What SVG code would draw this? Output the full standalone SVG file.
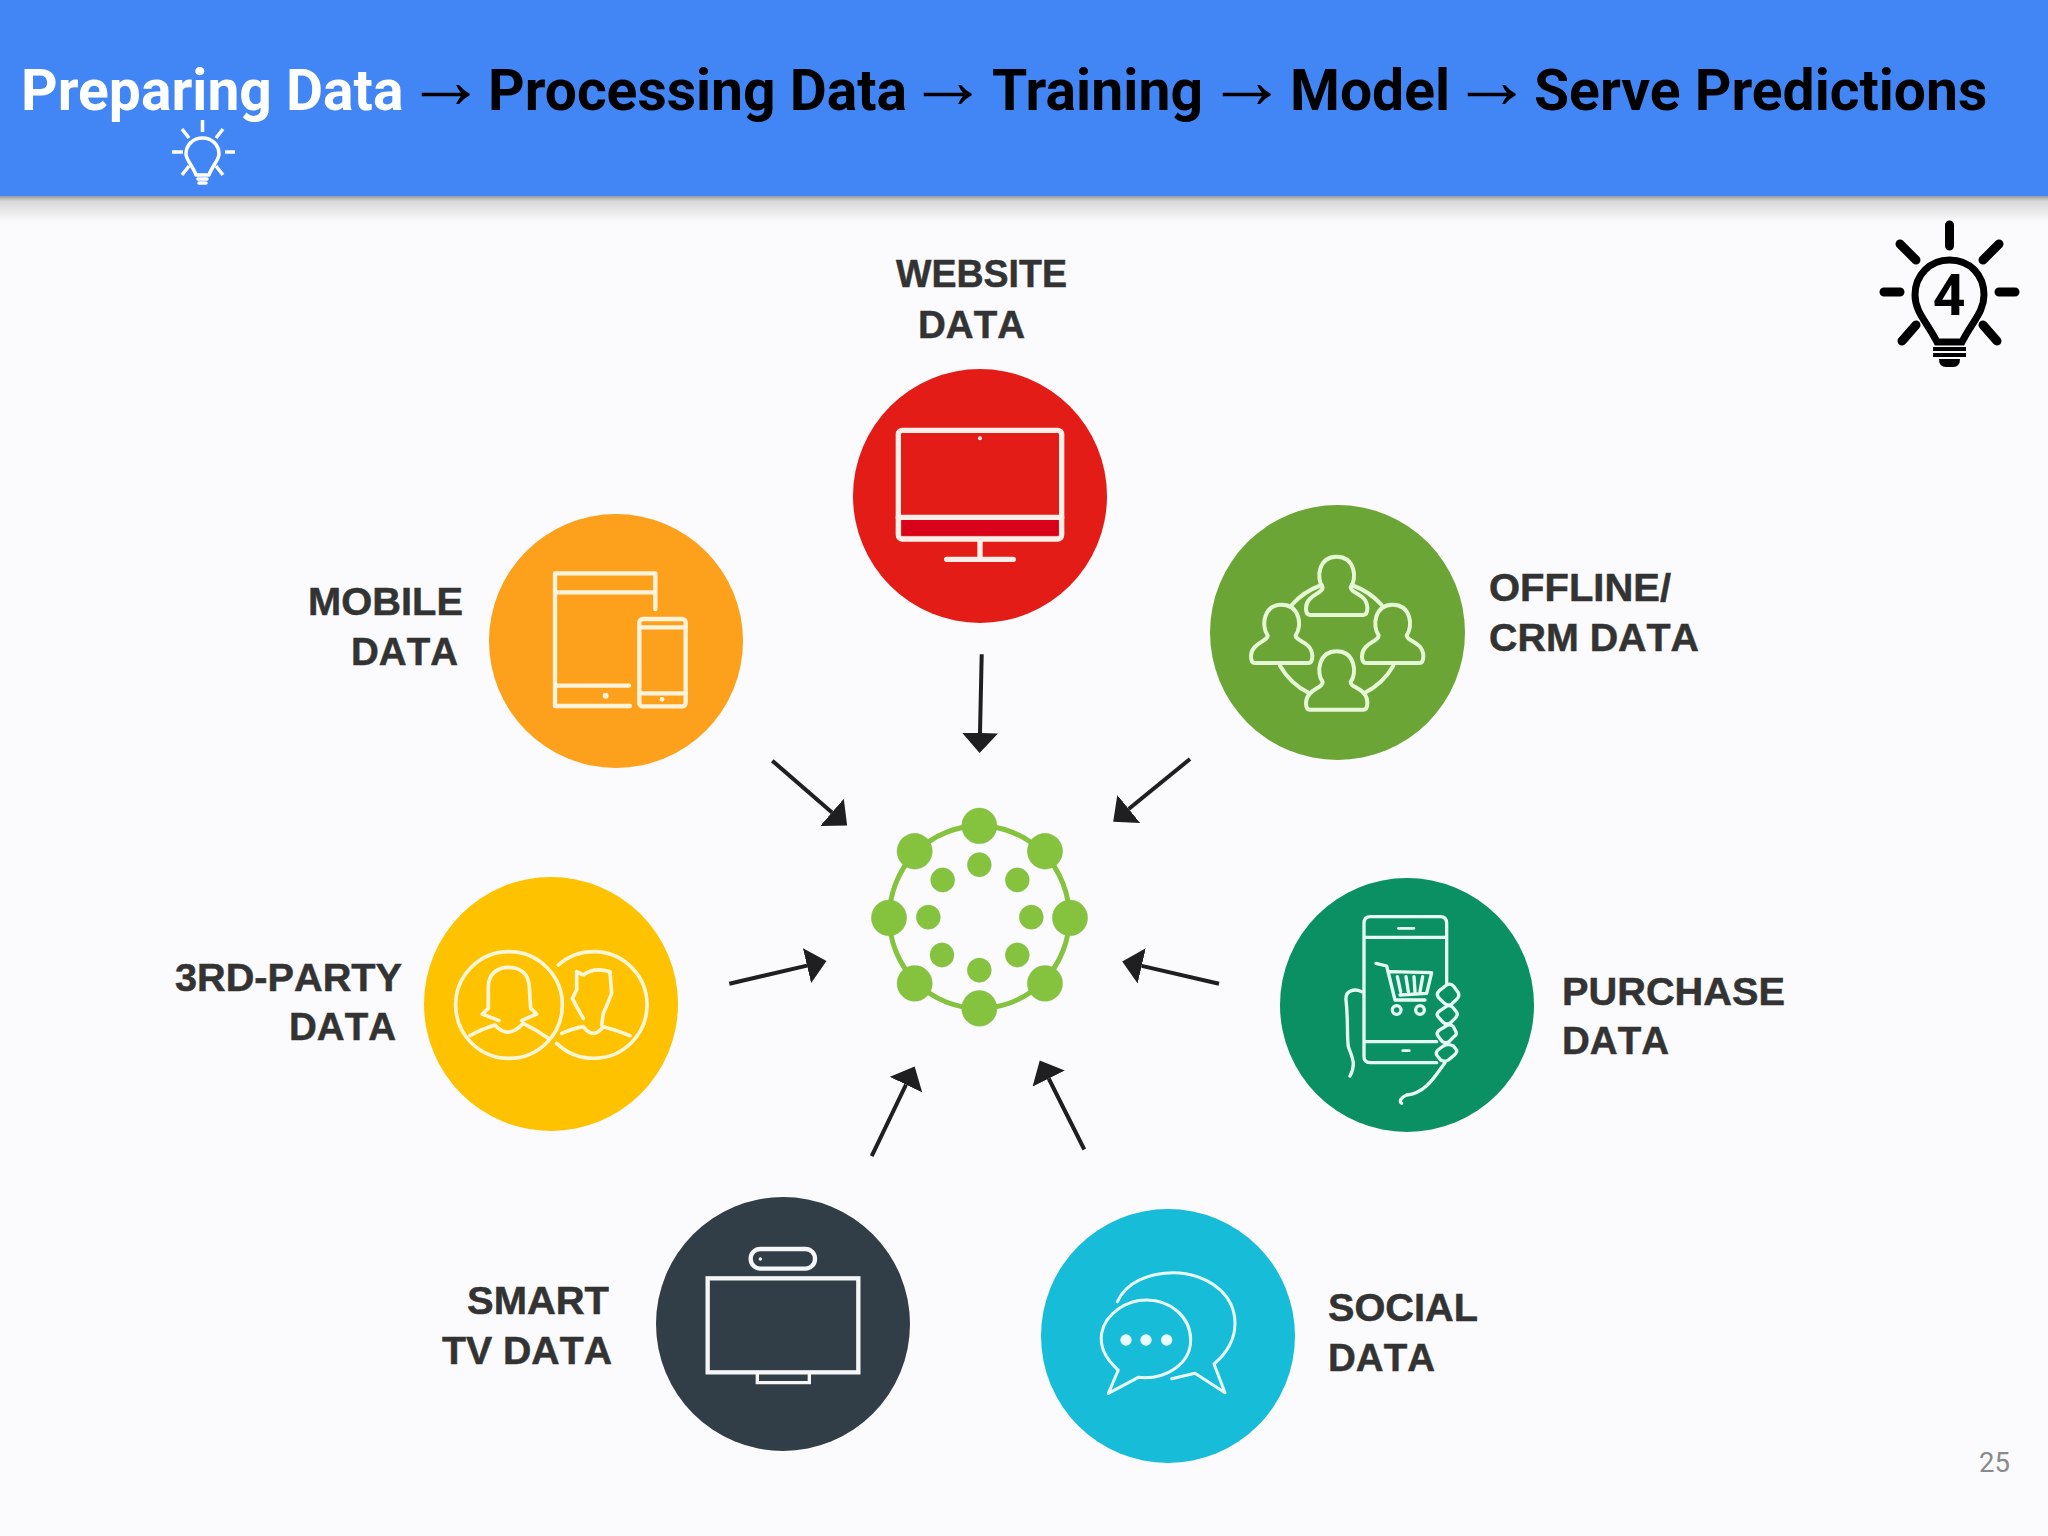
<svg xmlns="http://www.w3.org/2000/svg" width="2048" height="1536" viewBox="0 0 2048 1536">
<style>
.title{font-family:Roboto,"Liberation Sans",sans-serif;font-weight:700;font-size:57px;fill:#000}
.arr{font-family:"Liberation Sans",sans-serif;font-size:81px;fill:#000}
.lab{font-family:"Liberation Sans",Arial,sans-serif;font-weight:700;font-size:39px;fill:#333;font-kerning:none;stroke:#333;stroke-width:.5}
.ic{fill:none;stroke:#fff;stroke-linecap:round;stroke-linejoin:round}
.conn{stroke:#1f1f22;stroke-width:4;fill:none;marker-end:url(#head)}
.big{fill:#85c33f;stroke:#7fb64a;stroke-width:1}
</style>
<defs>
<marker id="head" markerUnits="userSpaceOnUse" markerWidth="21" markerHeight="36" refX="0" refY="18" orient="auto"><path d="M0,0L20,18L0,36Z" fill="#1f1f22"/></marker>
<linearGradient id="sh" x1="0" y1="0" x2="0" y2="1"><stop offset="0" stop-color="#9a9a9a"/><stop offset=".2" stop-color="#d8d8d8"/><stop offset="1" stop-color="#fbfbfd"/></linearGradient>
<path id="person" d="M-42,262C-62,235-55,170 0,170C55,170 62,235 42,262C40,280 92,280 92,325Q92,345 80,345L-80,345Q-92,345-92,325C-92,285-40,280-42,262Z"/>
</defs>
<rect width="2048" height="1536" fill="#fbfbfd"/>
<rect y="196" width="2048" height="26" fill="url(#sh)"/>
<g id="header">
<rect width="2048" height="196" fill="#4285f4"/>
<text class="title" x="21" y="110" style="fill:#fff">Preparing Data</text>
<text class="arr" x="405" y="108">→</text>
<text class="title" x="488" y="110">Processing Data</text>
<text class="arr" x="907" y="108">→</text>
<text class="title" x="992" y="110" textLength="211">Training</text>
<text class="arr" x="1206" y="108">→</text>
<text class="title" x="1290" y="110">Model</text>
<text class="arr" x="1451" y="108">→</text>
<text class="title" x="1534" y="110">Serve Predictions</text>
<g id="bulb-small" class="ic" style="stroke-width:3.500">
<path d="M202.500,120V132M182,129L189,138M223,129L216,138M172,152H183M225,152H235M189,166L182,175M216,166L223,175" style="stroke-linecap:butt"/>
<path d="M202.500,138C212,138 219,145 219,154C219,160 212,166 209,175H196C193,166 186,160 186,154C186,145 193,138 202.500,138Z"/>
<path d="M198,179H207M199,183H206"/>
</g>
</g>
<g id="bulb-step">
<path d="M1949.500,225V246M1900,244L1916,260M1999,244L1983,260M1884,292H1900M1999,292H2015M1916,325L1902,341M1983,325L1997,341" fill="none" stroke="#000" stroke-width="9" stroke-linecap="round"/>
<path d="M1949.500,260C1970,260 1984,275 1984,295C1984,312 1972,322 1962,342H1937C1927,322 1915,312 1915,295C1915,275 1930,260 1949.500,260Z" fill="none" stroke="#000" stroke-width="7"/>
<path d="M1933,347H1966V351H1933ZM1933,353H1966V357H1933ZM1939,359H1960Q1960,367 1953,367H1946Q1939,367 1939,359Z" fill="#000"/>
<text class="title" x="1949" y="315" text-anchor="middle">4</text>
</g>
<g id="connectors">
<line class="conn" x1="981.700" y1="654.200" x2="980" y2="733"/>
<line class="conn" x1="772.300" y1="760.700" x2="832" y2="812.400"/>
<line class="conn" x1="1190" y1="759" x2="1128.700" y2="809"/>
<line class="conn" x1="729.300" y1="983.800" x2="807" y2="965.600"/>
<line class="conn" x1="1219" y1="983.800" x2="1141.700" y2="965.900"/>
<line class="conn" x1="871.700" y1="1156.200" x2="906" y2="1084.600"/>
<line class="conn" x1="1084.300" y1="1149.500" x2="1048.700" y2="1078.500"/>
</g>
<g id="hub" transform="translate(720,640) scale(.33333,.338)">
<circle cx="778" cy="820" r="270" fill="none" stroke="#85c33f" stroke-width="15"/>
<g class="big">
<circle cx="778" cy="550" r="53"/><circle cx="975" cy="625" r="53"/><circle cx="1050" cy="822" r="53"/><circle cx="975" cy="1016" r="53"/><circle cx="778" cy="1090" r="53"/><circle cx="584" cy="1016" r="53"/><circle cx="507" cy="822" r="53"/><circle cx="584" cy="625" r="53"/>
<circle cx="778" cy="665" r="36"/><circle cx="892" cy="710" r="36"/><circle cx="934" cy="820" r="36"/><circle cx="892" cy="932" r="36"/><circle cx="778" cy="977" r="36"/><circle cx="666" cy="932" r="36"/><circle cx="625" cy="820" r="36"/><circle cx="668" cy="710" r="36"/>
</g>
</g>
<g id="website">
<circle cx="980" cy="496" r="127" fill="#e31c17"/>
<g transform="translate(840,360) scale(.33333)">
<rect x="187" y="480" width="468" height="46" fill="#d9001b"/>
<g class="ic" style="stroke-width:16;stroke:#fdeee9">
<rect x="175" y="211" width="490" height="326" rx="12"/>
<path d="M175,472H665M420,545V598M320,598H520"/>
</g>
<circle cx="420" cy="235" r="6" fill="#fdeee9"/>
</g>
<text class="lab" x="896" y="287" textLength="171" lengthAdjust="spacingAndGlyphs">WEBSITE</text><text class="lab" x="918" y="338" textLength="107" lengthAdjust="spacingAndGlyphs">DATA</text>
</g>
<g id="offline">
<circle cx="1337.500" cy="632.500" r="127.500" fill="#6aa535"/>
<g transform="translate(1200,500) scale(.33333)" class="ic" style="stroke-width:12;stroke:#e6f7d6">
<path d="M365,255Q310,275 275,315M455,255Q510,275 545,315M240,497Q270,550 328,580M580,497Q550,550 492,580"/>
<use href="#person" x="410" y="0"/><use href="#person" x="245" y="144"/><use href="#person" x="578" y="144"/><use href="#person" x="410" y="284"/>
</g>
<text class="lab" x="1489" y="601" textLength="182" lengthAdjust="spacingAndGlyphs">OFFLINE/</text><text class="lab" x="1489" y="651" textLength="210" lengthAdjust="spacingAndGlyphs">CRM DATA</text>
</g>
<g id="mobile">
<circle cx="616" cy="641" r="127" fill="#fda01c"/>
<g transform="translate(480,510) scale(.33333)">
<g class="ic" style="stroke-width:13;stroke:#fff3dc">
<path d="M526,297V190H225V588H450M225,247H526M225,527H447"/>
<rect x="478" y="327" width="139" height="262" rx="10"/>
<path d="M478,352H617M478,550H617"/>
</g>
<circle cx="377" cy="557" r="9" fill="#fff3dc"/><circle cx="546" cy="568" r="7" fill="#fff3dc"/>
</g>
<text class="lab" x="308" y="615" textLength="155" lengthAdjust="spacingAndGlyphs">MOBILE</text><text class="lab" x="351" y="665" textLength="107" lengthAdjust="spacingAndGlyphs">DATA</text>
</g>
<g id="third-party">
<circle cx="551" cy="1004" r="127" fill="#fec200"/>
<g transform="translate(420,870) scale(.33333)" class="ic" style="stroke-width:11;stroke:#fff6d8">
<circle cx="267" cy="405" r="160"/>
<path d="M415,285A160,160 0 1 1 410,520"/>
<path d="M237,452L187,432L205,415L205,350C205,310 235,292 265,292C300,292 325,310 328,350L332,415L350,432L305,452"/>
<path d="M150,497Q190,475 225,465Q265,510 310,460Q350,480 385,505"/>
<path d="M490,445L470,410L457,385L470,360L470,305L490,315Q520,290 570,305L575,370L565,395L550,430L545,465"/>
<path d="M425,490Q460,475 490,470Q520,510 550,470Q590,480 630,497"/>
</g>
<text class="lab" x="175" y="991" textLength="227" lengthAdjust="spacingAndGlyphs">3RD-PARTY</text><text class="lab" x="289" y="1040" textLength="107" lengthAdjust="spacingAndGlyphs">DATA</text>
</g>
<g id="purchase">
<circle cx="1407" cy="1005" r="127" fill="#0b9063"/>
<g transform="translate(1280,880) scale(.33333)" class="ic" style="stroke-width:10;stroke:#e6fbf3">
<path d="M500,310V130Q500,110 480,110H272Q252,110 252,130V530Q252,548 272,548H470M252,172H500M252,485H470"/>
<path d="M355,145H402M368,512H388" style="stroke-width:8"/>
<path d="M288,250L320,258L345,360H435M330,275L455,278L440,340L360,345M352,290L362,335M378,290L385,335M402,290L405,335M428,290L420,335"/>
<circle cx="350" cy="390" r="13"/><circle cx="420" cy="390" r="13"/>
<path d="M500,315Q512,308 522,320L535,338Q540,348 530,358L515,372Q505,380 493,370L475,352Q468,342 478,332Z"/>
<path d="M498,380Q510,372 520,384L530,397Q535,405 525,415L512,428Q502,436 490,428L474,410Q468,402 476,395Z"/>
<path d="M498,438Q510,430 520,440L528,455Q532,463 522,470L508,484Q498,492 486,484L474,468Q468,460 476,452Z"/>
<path d="M490,498Q505,490 520,498L530,510Q532,518 522,526L505,540Q495,547 482,540L470,525Q466,517 474,510Z"/>
<path d="M245,335C225,325 195,330 198,360C205,420 200,460 205,500C215,530 230,550 210,588"/>
<path d="M495,548C470,580 440,640 380,645C365,650 355,665 365,670"/>
</g>
<text class="lab" x="1562" y="1005" textLength="223" lengthAdjust="spacingAndGlyphs">PURCHASE</text><text class="lab" x="1562" y="1054" textLength="107" lengthAdjust="spacingAndGlyphs">DATA</text>
</g>
<g id="smart-tv">
<circle cx="783" cy="1324" r="127" fill="#313e47"/>
<g transform="translate(660,1200) scale(.33333)">
<g class="ic" style="stroke-width:13;stroke-linejoin:miter;stroke:#f4f6f7">
<rect x="272" y="147" width="193" height="59" rx="29"/>
<rect x="143" y="235" width="452" height="282"/>
<path d="M292,518V548H448V518" style="stroke-width:10"/>
</g>
<circle cx="301" cy="177" r="5" fill="#f4f6f7"/>
</g>
<text class="lab" x="467" y="1314" textLength="142" lengthAdjust="spacingAndGlyphs">SMART</text><text class="lab" x="442" y="1364" textLength="170" lengthAdjust="spacingAndGlyphs">TV DATA</text>
</g>
<g id="social">
<circle cx="1168" cy="1336" r="127" fill="#16bcd8"/>
<g transform="translate(1040,1210) scale(.33333)">
<g class="ic" style="stroke-width:9;stroke:#eafbff">
<path d="M232,478C190,440 180,400 185,370C195,310 260,270 320,270C390,270 452,320 452,390C452,460 380,510 295,502L205,550L235,480"/>
<path d="M232,275C260,215 330,188 400,188C500,190 585,250 585,340C585,390 560,430 522,462L555,548L465,490L395,506"/>
</g>
<circle cx="258" cy="390" r="17" fill="#eafbff"/><circle cx="318" cy="390" r="17" fill="#eafbff"/><circle cx="380" cy="390" r="17" fill="#eafbff"/>
</g>
<text class="lab" x="1328" y="1321" textLength="150" lengthAdjust="spacingAndGlyphs">SOCIAL</text><text class="lab" x="1328" y="1371" textLength="107" lengthAdjust="spacingAndGlyphs">DATA</text>
</g>
<text id="page" x="1979" y="1472" font-family="Roboto,sans-serif" font-size="27.500" fill="#8a8a8a">25</text>
</svg>
